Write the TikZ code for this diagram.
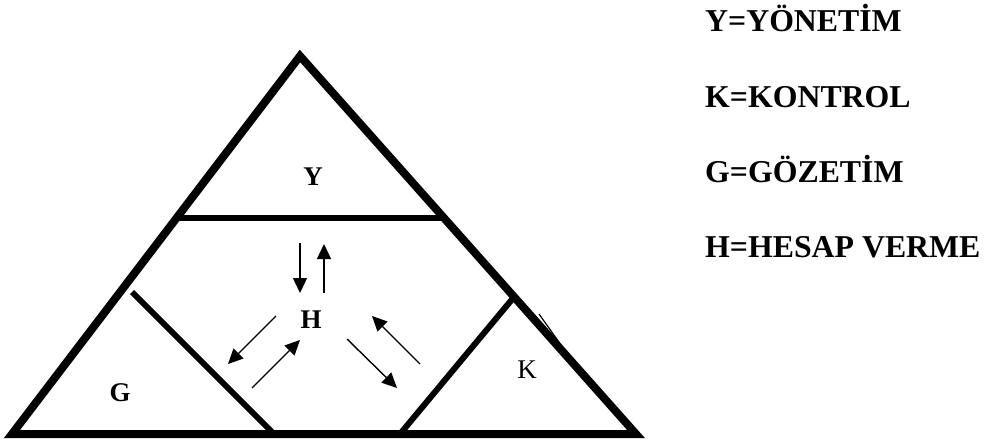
\documentclass[tikz,border=0pt]{standalone}
\usepackage{fontspec}
\setmainfont{Liberation Serif}
\usetikzlibrary{arrows.meta}
\begin{document}
\begin{tikzpicture}[x=1pt,y=-1pt,
  outer/.style={line width=8pt,line join=miter},
  inner/.style={line width=6pt},
  arr/.style={line width=1.4pt,-{Triangle[length=15pt,width=14pt]}},
  lab/.style={inner sep=0pt,font=\fontsize{27}{27}\selectfont\bfseries},
  labreg/.style={inner sep=0pt,font=\fontsize{27}{27}\selectfont},
  leg/.style={inner sep=0pt,anchor=base west,font=\fontsize{31.8}{32}\selectfont\bfseries}]
\useasboundingbox (0,0) rectangle (990,441);
% outer triangle
\coordinate (A) at (300,56);
\coordinate (BL) at (12,434);
\coordinate (BR) at (636,434);
\draw[outer] (A) -- (BR) -- (BL) -- cycle;
% inner lines
\coordinate (h1) at (177,218);
\coordinate (h2) at (444,218);
\draw[inner] (h1) -- (h2);
\coordinate (l1) at (132,292);
\coordinate (l2) at (274,434);
\draw[inner] (l1) -- (l2);
\coordinate (r1) at (514,297);
\coordinate (r2) at (400,434);
\draw[inner] (r1) -- (r2);
% small stroke on right edge
\coordinate (t1) at (539,314);
\coordinate (t2) at (566,352);
\draw[line width=1.2pt] (t1) -- (t2);
% labels
\node[lab] (Y) at (313,177) {Y};
\node[lab] (H) at (311,320) {H};
\node[lab] (G) at (120,393) {G};
\node[labreg] (K) at (527,370) {K};
% arrows
\coordinate (a1s) at (300,243); \coordinate (a1e) at (300,293);
\coordinate (a2s) at (324,293); \coordinate (a2e) at (324,244);
\coordinate (a3s) at (276,316); \coordinate (a3e) at (228,364);
\coordinate (a4s) at (252,388); \coordinate (a4e) at (300,340);
\coordinate (a5s) at (347,339); \coordinate (a5e) at (397,388);
\coordinate (a6s) at (420,364); \coordinate (a6e) at (372,316);
\draw[arr] (a1s) -- (a1e);
\draw[arr] (a2s) -- (a2e);
\draw[arr] (a3s) -- (a3e);
\draw[arr] (a4s) -- (a4e);
\draw[arr] (a5s) -- (a5e);
\draw[arr] (a6s) -- (a6e);
% legend
\node[leg] (L1) at (705,32) {Y=YÖNETİM};
\node[leg] (L2) at (705,108) {K=KONTROL};
\node[leg] (L3) at (705,182) {G=GÖZETİM};
\node[leg] (L4) at (705,257) {H=HESAP VERME};
\end{tikzpicture}
\end{document}
